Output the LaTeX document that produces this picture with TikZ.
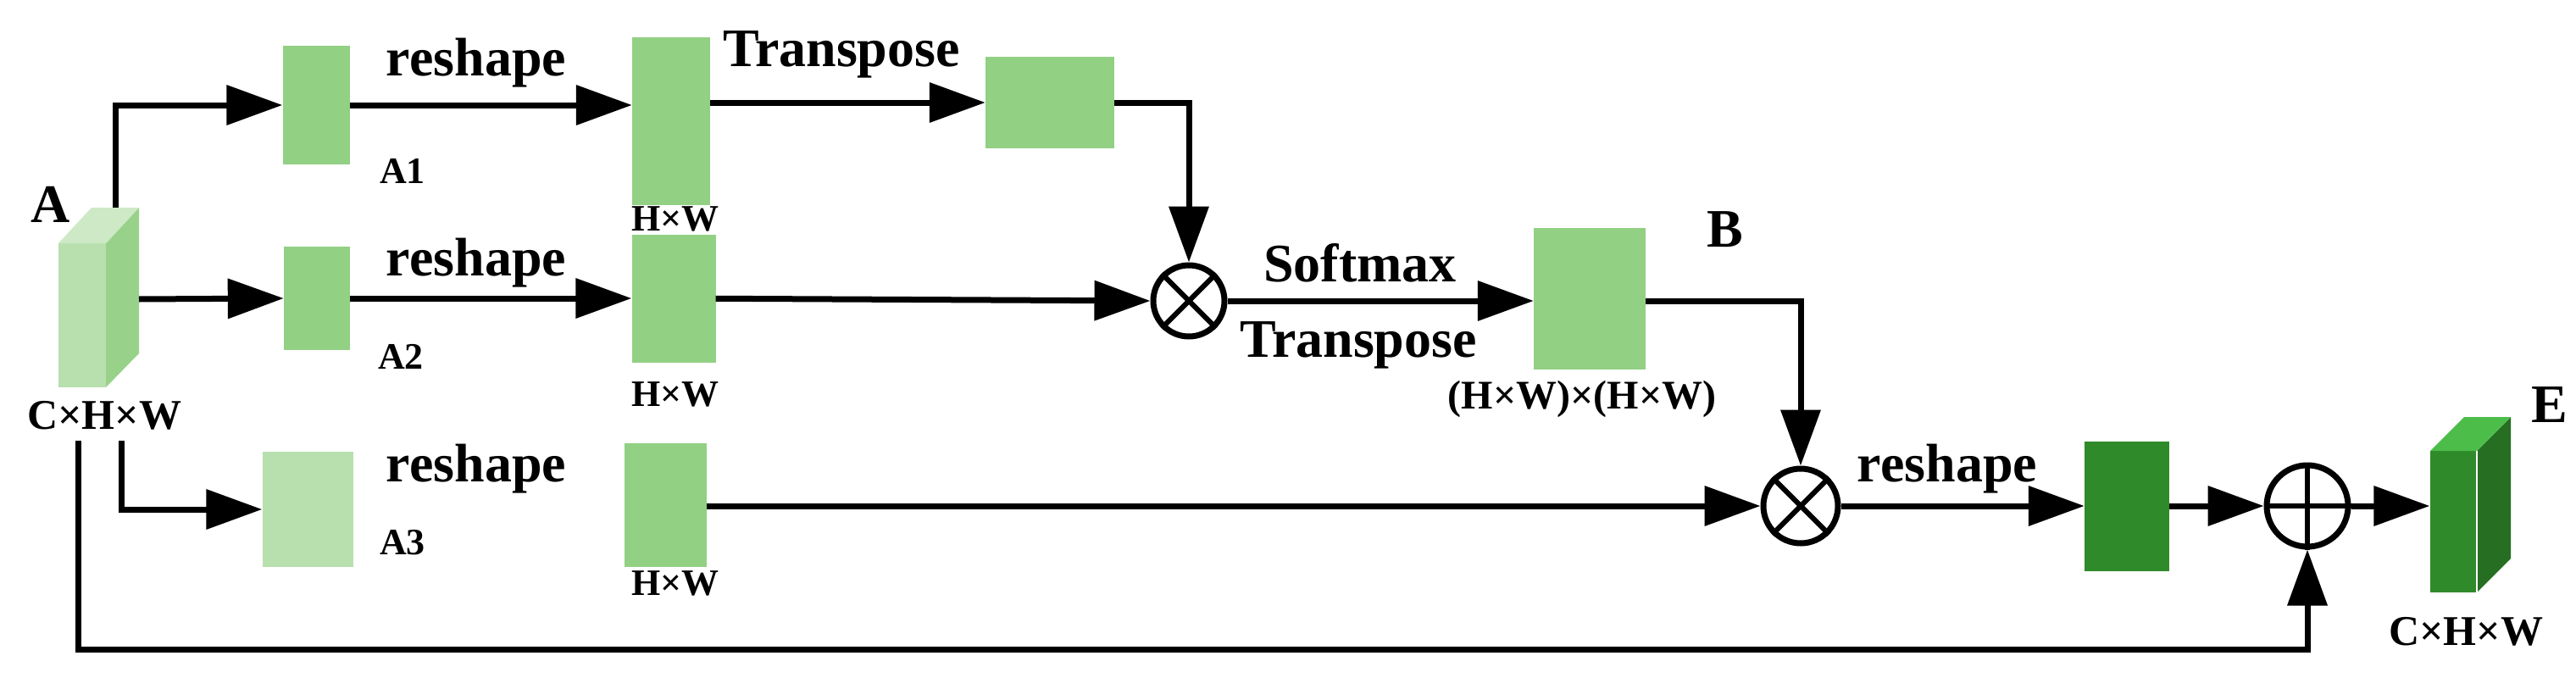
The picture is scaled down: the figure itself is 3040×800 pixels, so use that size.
\documentclass[tikz,border=0pt]{standalone}
\usepackage{fontspec}
\setmainfont{Liberation Serif}
\usetikzlibrary{arrows.meta}
\definecolor{lg}{HTML}{92D084}
\definecolor{llg}{HTML}{B8E0AE}
\definecolor{dg}{HTML}{2F8A2A}
\begin{document}
\begin{tikzpicture}[x=1pt,y=-1pt,
  box/.style={rectangle,draw=none,inner sep=0pt,fill=lg},
  op/.style={circle,draw=black,line width=7pt,inner sep=0pt,minimum size=#1},
  conn/.style={line width=7pt,-{Triangle[length=66pt,width=46pt]}},
  lbl/.style={font=\fontsize{64}{64}\selectfont\bfseries,inner sep=0pt},
  sl/.style={font=\fontsize{44}{44}\selectfont\bfseries,inner sep=0pt}]
\useasboundingbox (0,0) rectangle (3040,800);
% cube A
\fill[llg] (69,287) rectangle (125,457);
\fill[lg!85!llg] (125,287) -- (164,245) -- (164,417) -- (125,457) -- cycle;
\fill[llg!70!white] (69,287) -- (108,245) -- (164,245) -- (125,287) -- cycle;
\coordinate (Atop) at (136,245);
\coordinate (Aside) at (164,353);
\coordinate (Ab1) at (92,520);
\coordinate (Ab2) at (143,520);
\coordinate (Bot) at (92,766);
% cube E
\fill[dg] (2868,532) rectangle (2923,699);
\fill[dg!80!black] (2923,532) -- (2963,492) -- (2963,659) -- (2923,699) -- cycle;
\fill[dg!70!green!80!white] (2868,532) -- (2908,492) -- (2963,492) -- (2923,532) -- cycle;
\draw[white,line width=1.5pt] (2923,532) -- (2923,699);
\node[inner sep=0pt,minimum width=55pt,minimum height=167pt] (E) at (2895,615) {};
% boxes
\node[box,minimum width=79pt,minimum height=140pt] (A1) at (373,124) {};
\node[box,minimum width=92pt,minimum height=197pt] (hw1) at (792,143) {};
\node[box,minimum width=152pt,minimum height=107pt] (T1) at (1239,121) {};
\node[box,minimum width=78pt,minimum height=122pt] (A2) at (374,352) {};
\node[box,minimum width=99pt,minimum height=151pt] (hw2) at (795,352) {};
\node[box,fill=llg,minimum width=107pt,minimum height=136pt] (A3) at (363,601) {};
\node[box,minimum width=97pt,minimum height=146pt] (hw3) at (785,596) {};
\node[box,minimum width=132pt,minimum height=167pt] (B) at (1876,352) {};
\node[box,fill=dg,minimum width=100pt,minimum height=153pt] (D) at (2510,597) {};
% operators
\node[op=84pt] (o1) at (1403,355) {};
\draw[line width=6pt] (o1.north west) -- (o1.south east) (o1.north east) -- (o1.south west);
\node[op=88pt] (o2) at (2125,597) {};
\draw[line width=6pt] (o2.north west) -- (o2.south east) (o2.north east) -- (o2.south west);
\node[op=96pt] (p) at (2723,597) {};
\draw[line width=6pt] (p.north) -- (p.south) (p.west) -- (p.east);
% connectors
\draw[conn] (Atop) |- (A1.west);
\draw[conn] (Aside) -- (A2.west);
\draw[conn] (Ab2) |- (A3.west);
\draw[conn] (Ab1) -- (Bot) -| (p.south);
\draw[conn] (A1) -- (hw1.west |- A1);
\draw[conn] (hw1.east |- T1) -- (T1.west);
\draw[conn] (T1.east) -| (o1.north);
\draw[conn] (A2) -- (hw2.west);
\draw[conn] (hw2) -- (o1.west);
\draw[conn] (o1) -- (B.west |- o1);
\draw[conn] (B.east |- o1) -| (o2.north);
\draw[conn] (hw3.east |- o2) -- (o2.west);
\draw[conn] (o2) -- (D.west);
\draw[conn] (D) -- (p.west);
\draw[conn] (p) -- (E.west |- p);
% labels
\node[lbl] (lA) at (60,241) {A};
\node[sl,font=\fontsize{50}{50}\selectfont\bfseries] (lCA) at (123,490) {C×H×W};
\node[sl,font=\fontsize{50}{50}\selectfont\bfseries] (lCE) at (2910,745) {C×H×W};
\node[lbl] (lE) at (3009,478) {E};
\node[lbl] (lB) at (2036,271) {B};
\node[lbl] (r1) at (562,74) {reshape};
\node[lbl] (r2) at (562,310) {reshape};
\node[lbl] (r3) at (562,553) {reshape};
\node[lbl] (r4) at (2298,553) {reshape};
\node[lbl] (t1) at (993,64) {Transpose};
\node[lbl] (sm) at (1605,310) {Softmax};
\node[lbl] (t2) at (1603,407) {Transpose};
\node[sl,font=\fontsize{48}{48}\selectfont\bfseries] (hh) at (1867,471) {(H×W)×(H×W)};
\node[sl] (h1) at (797,258) {H×W};
\node[sl] (h2) at (797,465) {H×W};
\node[sl] (h3) at (797,688) {H×W};
\node[sl] (a1) at (475,202) {A1};
\node[sl] (a2) at (473,421) {A2};
\node[sl] (a3) at (475,640) {A3};
\end{tikzpicture}
\end{document}
